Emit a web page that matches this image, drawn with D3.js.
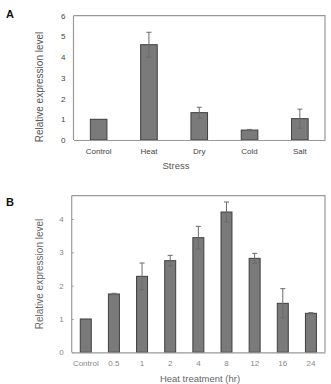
<!DOCTYPE html>
<html>
<head>
<meta charset="utf-8">
<script src="https://cdn.jsdelivr.net/npm/d3@7"></script>
<style>
  body { margin: 0; background: #fff; }
  text { font-family: "Liberation Sans", Arial, sans-serif; }
</style>
</head>
<body>
<div id="wrapper"></div>
<script>
// Panel A data
const stressCats = ["Control", "Heat", "Dry", "Cold", "Salt"];
const stressVals = [1.0, 4.6, 1.32, 0.48, 1.03];
const stressErr = [0.0, 0.6, 0.26, 0.03, 0.46];
const stressTicks = [0, 1, 2, 3, 4, 5, 6];

// Panel B data
const heatCats = ["Control", "0.5", "1", "2", "4", "8", "12", "16", "24"];
const heatVals = [1.0, 1.75, 2.28, 2.75, 3.44, 4.21, 2.82, 1.47, 1.17];
const heatErr = [0.0, 0.02, 0.4, 0.16, 0.34, 0.3, 0.15, 0.44, 0.02];
const heatTicks = [0, 1, 2, 3, 4];

const width = 331, height = 384;

const svg = d3.select("#wrapper")
    .append("svg")
    .attr("width", width)
    .attr("height", height);

function drawPanel(opt) {
    const g = svg.append("g");

    const x = d3.scaleBand()
        .domain(opt.cats)
        .range([opt.left, opt.right]);

    const y = d3.scaleLinear()
        .domain([0, opt.yMax])
        .range([opt.bottom, opt.top]);

    // frame (top + right)
    g.append("path")
        .attr("d", `M${opt.left},${opt.top}H${opt.right}V${opt.bottom}`)
        .attr("fill", "none")
        .attr("stroke", "#999")
        .attr("stroke-width", 1.2);

    // bars
    const data = opt.cats.map((c, i) => ({ c: c, v: opt.vals[i], e: opt.err[i] }));
    const bw = x.bandwidth() * opt.barFrac;

    g.selectAll("rect.bar")
        .data(data)
        .enter()
        .append("rect")
        .attr("x", d => x(d.c) + (x.bandwidth() - bw) / 2)
        .attr("y", d => y(d.v))
        .attr("width", bw)
        .attr("height", d => y(0) - y(d.v))
        .attr("fill", "#7a7a7a")
        .attr("stroke", "#3e3e3e")
        .attr("stroke-width", 1);

    // error bars
    const eb = g.selectAll("g.err")
        .data(data.filter(d => d.e > 0))
        .enter()
        .append("g")
        .attr("stroke", "#6a6a6a")
        .attr("stroke-width", 1);
    eb.append("line")
        .attr("x1", d => x(d.c) + x.bandwidth() / 2)
        .attr("x2", d => x(d.c) + x.bandwidth() / 2)
        .attr("y1", d => y(d.v - d.e))
        .attr("y2", d => y(d.v + d.e));
    [1, -1].forEach(s => {
        eb.append("line")
            .attr("x1", d => x(d.c) + x.bandwidth() / 2 - 2.5)
            .attr("x2", d => x(d.c) + x.bandwidth() / 2 + 2.5)
            .attr("y1", d => y(d.v + s * d.e))
            .attr("y2", d => y(d.v + s * d.e));
    });

    // y axis
    const yAxis = g.append("g")
        .attr("transform", `translate(${opt.left},0)`)
        .call(d3.axisLeft(y)
            .tickValues(opt.ticks)
            .tickFormat(d3.format("d"))
            .tickSize(opt.innerTick ? -2 : 0)
            .tickPadding(opt.yPad));
    yAxis.select(".domain").remove();
    yAxis.selectAll("line").attr("stroke", "#999");
    yAxis.selectAll("text")
        .attr("fill", opt.labelColor)
        .attr("font-size", "8px");
    g.append("line")
        .attr("x1", opt.left).attr("x2", opt.left)
        .attr("y1", opt.top).attr("y2", opt.bottom)
        .attr("stroke", "#999").attr("stroke-width", 1.2);

    // x axis
    const xAxis = g.append("g")
        .attr("transform", `translate(0,${opt.bottom})`)
        .call(d3.axisBottom(x).tickSize(0).tickPadding(opt.xPad));
    xAxis.select(".domain")
        .attr("stroke", "#999")
        .attr("stroke-width", 1.2);
    xAxis.selectAll("text")
        .attr("fill", opt.labelColor)
        .attr("font-size", "8px");

    // axis titles
    g.append("text")
        .attr("x", opt.xTitleX)
        .attr("y", opt.xTitleY)
        .attr("text-anchor", "middle")
        .attr("font-size", "9.5px")
        .attr("fill", opt.titleColor)
        .text(opt.xTitle);

    g.append("text")
        .attr("transform", `translate(43,${opt.yTitleY}) rotate(-90)`)
        .attr("text-anchor", "middle")
        .attr("font-size", "10px")
        .attr("fill", opt.titleColor)
        .text("Relative expression level");

    // panel letter
    g.append("text")
        .attr("x", 6)
        .attr("y", opt.letterY)
        .attr("font-size", "11px")
        .attr("font-weight", "bold")
        .attr("fill", "#111")
        .text(opt.letter);
}

drawPanel({
    cats: stressCats, vals: stressVals, err: stressErr, ticks: stressTicks,
    yMax: 6, left: 73.5, right: 325, top: 15.7, bottom: 140,
    barFrac: 0.33, innerTick: false, yPad: 8, xPad: 8,
    labelColor: "#444", titleColor: "#555",
    xTitle: "Stress", xTitleX: 176, xTitleY: 169, yTitleY: 87,
    letter: "A", letterY: 18
});

drawPanel({
    cats: heatCats, vals: heatVals, err: heatErr, ticks: heatTicks,
    yMax: 4.7, left: 71.7, right: 325, top: 195.7, bottom: 352.3,
    barFrac: 0.39, innerTick: true, yPad: 8, xPad: 8,
    labelColor: "#888", titleColor: "#666",
    xTitle: "Heat treatment (hr)", xTitleX: 200, xTitleY: 382, yTitleY: 274,
    letter: "B", letterY: 206
});
</script>
</body>
</html>
